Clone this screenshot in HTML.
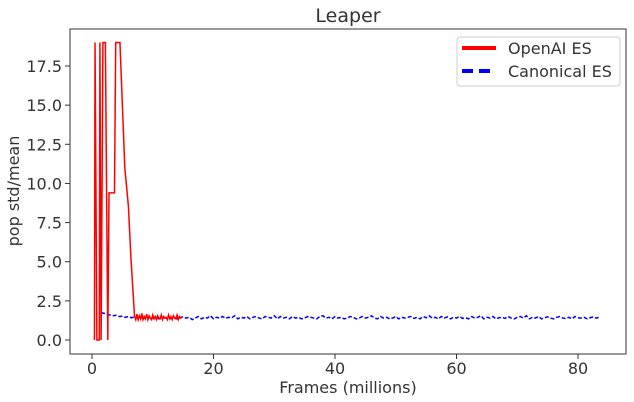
<!DOCTYPE html>
<html><head><meta charset="utf-8"><style>
body{margin:0;background:#fff}
svg{display:block;font-family:"DejaVu Sans","Liberation Sans",sans-serif}
</style></head><body>
<svg id="chart" width="634" height="402" xmlns="http://www.w3.org/2000/svg"></svg>
<script>
const xTicks=[0,20,40,60,80];
const yTicks=[0,2.5,5,7.5,10,12.5,15,17.5];
const yTickLabels=["0.0","2.5","5.0","7.5","10.0","12.5","15.0","17.5"];
const redX=[0.4,0.5,0.8,1.2,1.3,1.5,1.8,2.0,2.2,2.6,2.8,3.7,3.9,4.6,5.4,6.0,6.4,7.0,7.2,7.4,7.6,7.8,8.0,8.2,8.4,8.6,8.8,9.0,9.2,9.4,9.6,9.8,10.0,10.2,10.4,10.6,10.8,11.0,11.2,11.4,11.6,11.8,12.0,12.2,12.4,12.6,12.8,13.0,13.2,13.4,13.6,13.8,14.0,14.2,14.4,14.6,14.8];
const redY=[0,19,0,0,19,0,19,19,19,0,9.4,9.4,19,19,11,8.5,5.3,1.5,1.3,1.65,1.3,1.55,1.35,1.7,1.3,1.5,1.35,1.65,1.3,1.55,1.4,1.3,1.6,1.35,1.5,1.3,1.55,1.4,1.35,1.6,1.3,1.5,1.4,1.45,1.3,1.6,1.35,1.5,1.3,1.55,1.4,1.35,1.6,1.3,1.5,1.4,1.45];
const blueY=[1.75,1.7,1.62,1.6,1.55,1.58,1.5,1.52,1.45,1.5,1.42,1.48,1.4,1.45,1.38,1.5,1.42,1.4,1.48,1.35,1.45,1.4,1.5,1.38,1.45,1.35,1.42,1.5,1.4,1.45,1.3,1.4,1.5,1.35,1.45,1.4,1.55,1.35,1.45,1.4,1.5,1.38,1.45,1.42,1.55,1.35,1.45,1.4,1.5,1.35,1.45,1.5,1.4,1.35,1.5,1.45,1.4,1.55,1.35,1.5,1.4,1.45,1.35,1.5,1.4,1.45,1.35,1.4,1.5,1.45,1.4,1.35,1.5,1.55,1.4,1.45,1.35,1.5,1.4,1.45,1.35,1.4,1.5,1.45,1.35,1.4,1.5,1.4,1.45,1.55,1.4,1.35,1.5,1.4,1.45,1.35,1.4,1.5,1.35,1.45,1.4,1.45,1.5,1.38,1.45,1.35,1.5,1.42,1.55,1.4,1.45,1.35,1.5,1.4,1.48,1.35,1.45,1.4,1.5,1.38,1.42,1.35,1.5,1.4,1.45,1.55,1.35,1.45,1.4,1.5,1.35,1.42,1.45,1.38,1.5,1.4,1.35,1.45,1.5,1.4,1.55,1.35,1.45,1.4,1.5,1.35,1.42,1.48,1.4,1.35,1.45,1.5,1.4,1.38,1.45,1.35,1.5,1.42,1.4,1.45,1.35,1.42,1.48,1.4,1.45];
const blueStart=1.5;
const blueStep=0.5;
const NS="http://www.w3.org/2000/svg";
const svg=document.getElementById('chart');
const L=70,R=626,T=29,B=354;
const X=v=>92+v*(578-92)/80;
const Y=v=>340-v*(340-66)/17.5;
function mk(tag,attrs,txt){const e=document.createElementNS(NS,tag);for(const k in attrs)e.setAttribute(k,attrs[k]);if(txt!==undefined)e.textContent=txt;svg.appendChild(e);return e;}
let e;
e=mk('rect',{x:L,y:T,width:R-L,height:B-T,fill:'#fff',stroke:'#333','stroke-width':1});


xTicks.forEach(v=>{
 e=mk('line',{x1:X(v),x2:X(v),y1:B,y2:B+5,stroke:'#333'});
 
 
 e=mk('text',{x:X(v),y:B+20,'text-anchor':'middle','font-size':16,fill:'#333'},String(v));
 
 
});
yTicks.forEach((v,i)=>{
 e=mk('line',{x1:L-5,x2:L,y1:Y(v),y2:Y(v),stroke:'#333'});
 
 
 e=mk('text',{x:L-8,y:Y(v)+6,'text-anchor':'end','font-size':16,fill:'#333'},yTickLabels[i]);
 
 
});
e=mk('text',{x:348,y:393,'text-anchor':'middle','font-size':16,fill:'#333'},'Frames (millions)');


e=mk('text',{x:19,y:191,'text-anchor':'middle','font-size':16,fill:'#333',transform:'rotate(-90 19 191)'},'pop std/mean');


e=mk('text',{x:348,y:22,'text-anchor':'middle','font-size':19,fill:'#333'},'Leaper');


let bp=blueY.map((v,i)=>X(blueStart+i*blueStep)+','+Y(v)).join(' ');
e=mk('polyline',{points:bp,fill:'none',stroke:'#0000ff','stroke-width':1.5,'stroke-dasharray':'4,2'});


let rp=redX.map((x,i)=>X(x)+','+Y(redY[i])).join(' ');
e=mk('polyline',{points:rp,fill:'none',stroke:'#ff0000','stroke-width':1.5});


e=mk('rect',{x:457,y:37,width:163,height:49,rx:3,fill:'#fff','fill-opacity':0.8,stroke:'#ccc'});


e=mk('line',{x1:462,x2:496,y1:48,y2:48,stroke:'#ff0000','stroke-width':4});


e=mk('text',{x:508,y:54,'font-size':16,fill:'#333'},'OpenAI ES');


e=mk('line',{x1:462,x2:496,y1:71,y2:71,stroke:'#0000ff','stroke-width':4,'stroke-dasharray':'11,6'});


e=mk('text',{x:508,y:77,'font-size':16,fill:'#333'},'Canonical ES');


</script>
</body></html>
